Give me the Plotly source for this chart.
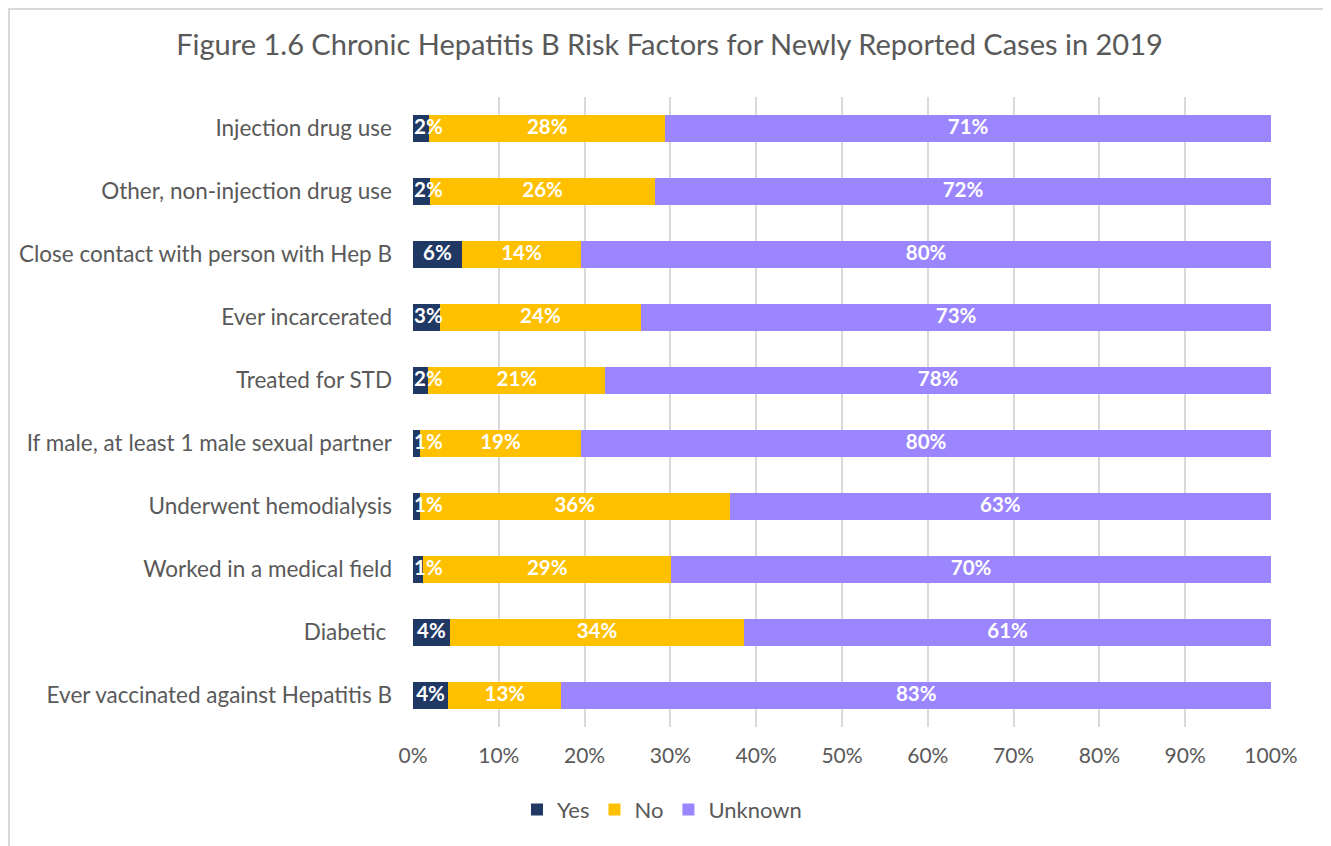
import plotly.graph_objects as go

categories = [
    "Injection drug use",
    "Other, non-injection drug use",
    "Close contact with person with Hep B",
    "Ever incarcerated",
    "Treated for STD",
    "If male, at least 1 male sexual partner",
    "Underwent hemodialysis",
    "Worked in a medical field",
    "Diabetic ",
    "Ever vaccinated against Hepatitis B",
]
yes = [1.9, 2.0, 5.7, 3.1, 1.8, 0.8, 0.8, 1.2, 4.3, 4.1]
no = [27.5, 26.2, 13.9, 23.5, 20.6, 18.8, 36.1, 28.9, 34.3, 13.2]
unknown = [70.6, 71.8, 80.4, 73.4, 77.6, 80.4, 63.1, 69.9, 61.4, 82.7]
series_names = ["Yes", "No", "Unknown"]
colors = ["#203864", "#FFC000", "#9B86FF"]
x_ticks = [0, 10, 20, 30, 40, 50, 60, 70, 80, 90, 100]

FONT = "Lato"
W, H = 1323, 838
L, R, T, B = 405, 60, 89, 119
PW, PH = W - L - R, H - T - B

fig = go.Figure()
series = [yes, no, unknown]
base = [0.0] * len(categories)
for i, (name, vals, col) in enumerate(zip(series_names, series, colors)):
    fig.add_trace(go.Bar(
        y=categories, x=vals, name=name, orientation="h",
        marker=dict(color=col, line=dict(width=0)),
        hoverinfo="x+name",
    ))
    mids = [b + v / 2 for b, v in zip(base, vals)]
    if i == 0:
        # keep labels of very thin bars inside the plot area
        mids = [max(m, 1.8) for m in mids]
    fig.add_trace(go.Scatter(
        y=categories, x=mids, mode="text",
        text=[f"{round(v):.0f}%" for v in vals],
        textfont=dict(color="white", size=20.5, family=FONT, weight="bold"),
        showlegend=False, hoverinfo="skip", cliponaxis=False,
    ))
    base = [b + v for b, v in zip(base, vals)]

fig.update_layout(
    barmode="stack",
    bargap=0.56,
    width=W, height=H,
    margin=dict(l=L, r=R, t=T, b=B),
    paper_bgcolor="white", plot_bgcolor="white",
    font=dict(family=FONT, color="#595959", size=21),
    title=dict(
        text="Figure 1.6 Chronic Hepatitis B Risk Factors for Newly Reported Cases in 2019",
        x=0.5, xanchor="center", y=1 - 37 / H, yanchor="middle",
        font=dict(size=29, color="#595959", family=FONT),
    ),
    xaxis=dict(
        range=[0, 100], tickvals=x_ticks, ticktext=[f"{t}%" for t in x_ticks],
        showgrid=True, gridcolor="#D9D9D9", gridwidth=2,
        zeroline=False, showline=False, ticks="", ticklen=0,
        tickfont=dict(size=21, color="#595959"),
        ticklabelstandoff=14,
    ),
    yaxis=dict(
        autorange="reversed", showgrid=False, showline=False, ticks="",
        ticklabelstandoff=20, tickfont=dict(size=22.5, color="#595959"),
    ),
    legend=dict(
        orientation="h", x=(662 - 8 - L) / PW, xanchor="center", y=-0.098, yanchor="top",
        font=dict(size=22, color="#595959"), traceorder="normal",
        itemwidth=30,
    ),
    shapes=[dict(
        type="rect", xref="paper", yref="paper",
        x0=(1 - L) / PW, x1=(W - 4 - L) / PW,
        y0=-(H + 2 - (T + PH)) / PH, y1=(T + PH - 1) / PH,
        line=dict(color="#D9D9D9", width=2), fillcolor="rgba(0,0,0,0)",
        layer="below",
    )],
)

fig.write_html("out.html")
